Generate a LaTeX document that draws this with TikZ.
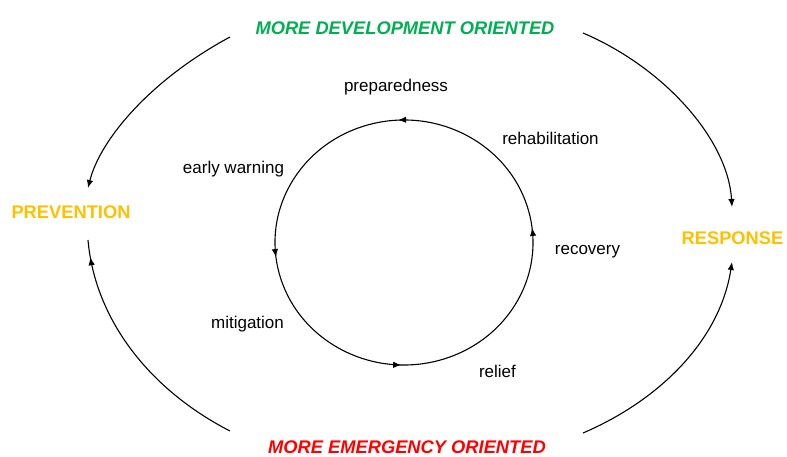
\documentclass[tikz,border=0pt]{standalone}
\usepackage{fontspec}
\setmainfont{Liberation Sans}
\usetikzlibrary{arrows.meta,decorations.markings}
\definecolor{devgreen}{HTML}{00B050}
\definecolor{emred}{HTML}{FF0000}
\definecolor{gold}{HTML}{FFC000}
\begin{document}
\begin{tikzpicture}[x=1pt,y=-1pt,
  lbl/.style={inner sep=0pt,font=\fontsize{17}{20}\selectfont},
  big/.style={inner sep=0pt,font=\fontsize{18.3}{21}\selectfont\bfseries},
  bigit/.style={inner sep=0pt,font=\fontsize{18.3}{21}\selectfont\bfseries\itshape},
  tip/.style={-{Latex[length=8pt,width=6.5pt]}},
  conn/.style={line width=1.1pt},
  midarrow/.style={postaction={decorate},decoration={markings,mark=at position #1 with {\arrow{Latex[length=8pt,width=6.5pt]}}}}
]
\useasboundingbox (0,0) rectangle (787,457);
% labels
\node[bigit,devgreen] (dev) at (405,28.5) {MORE DEVELOPMENT ORIENTED};
\node[bigit,emred] (em) at (407,447.5) {MORE EMERGENCY ORIENTED};
\node[big,gold] (prev) at (71,212) {PREVENTION};
\node[big,gold] (resp) at (732.5,238) {RESPONSE};
\node[lbl] (prep) at (396,87) {preparedness};
\node[lbl] (rehab) at (550.5,138) {rehabilitation};
\node[lbl] (ew) at (233.5,169.5) {early warning};
\node[lbl] (rec) at (587.5,251.5) {recovery};
\node[lbl] (mit) at (247.5,324) {mitigation};
\node[lbl] (rel) at (497.5,371.5) {relief};
% inner cycle
\coordinate (c) at (404,242.5);
\draw[conn,
  postaction={decorate},
  decoration={markings,
    mark=at position 0.1 with {\arrow{Latex[length=8pt,width=6.5pt]}},
    mark=at position 0.339 with {\arrow{Latex[length=8pt,width=6.5pt]}},
    mark=at position 0.6 with {\arrow{Latex[length=8pt,width=6.5pt]}},
    mark=at position 0.828 with {\arrow{Latex[length=8pt,width=6.5pt]}}}]
  ([shift={(30:129 and 122.5)}]c) arc[start angle=30,end angle=-330,x radius=129,y radius=122.5];
% outer arcs
\coordinate (tl0) at (230,37);
\coordinate (tl1) at (88,188);
\coordinate (tr0) at (583,33);
\coordinate (tr1) at (732,207);
\coordinate (bl0) at (230,431);
\coordinate (bl1) at (88,240);
\coordinate (br0) at (583,433);
\coordinate (br1) at (732,262);
\draw[conn,tip] (tl0) .. controls (150,80) and (100,140) .. (tl1);
\draw[conn,tip] (tr0) .. controls (665,68) and (728,140) .. (tr1);
\draw[conn,midarrow=0.93] (bl0) .. controls (150,390) and (95,320) .. (bl1);
\draw[conn,tip] (br0) .. controls (660,400) and (720,340) .. (br1);
\end{tikzpicture}
\end{document}
